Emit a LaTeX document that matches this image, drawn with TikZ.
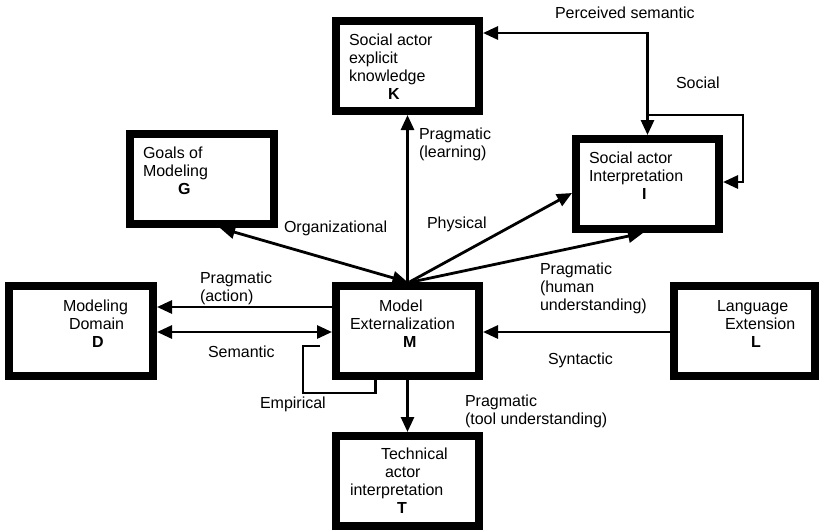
\documentclass[tikz,border=0pt]{standalone}
\usepackage{fontspec}
\setmainfont{Liberation Sans}
\usetikzlibrary{arrows.meta}

% multi-line text whose reference point is the first baseline
\newcommand{\stackL}[1]{\begin{tabular}[t]{@{}l@{}}#1\end{tabular}}

\begin{document}
\begin{tikzpicture}[x=1pt,y=-1pt,
  box/.style={draw, line width=8pt, outer sep=4pt, inner sep=0pt,
              minimum width=#1, minimum height=90pt},
  box/.default=143pt,
  txt/.style={anchor=base west, inner sep=0pt, outer sep=0pt,
              font=\fontsize{16}{18}\selectfont},
  conn/.style={line width=2.8pt},
  tip/.style={-{Triangle[length=15pt,width=13pt]}},
  tips/.style={{Triangle[length=15pt,width=13pt]}-{Triangle[length=15pt,width=13pt]}}
]
\useasboundingbox (0,0) rectangle (819,531);

% ---- boxes ----
\node[box] (K) at (407.5,66) {};
\node[box] (I) at (647.5,184) {};
\node[box=144pt] (G) at (202,179) {};
\node[box=144pt] (D) at (81,331) {};
\node[box] (M) at (407.5,331) {};
\node[box=141pt] (L) at (744.5,331) {};
\node[box] (T) at (407.5,481) {};

% ---- box texts ----
\node[txt] (Kt) at (349,45) {\stackL{Social actor\\explicit\\knowledge\\\hspace*{39pt}\textbf{K}}};
\node[txt] (It) at (589,163) {\stackL{Social actor\\Interpretation\\\hspace*{53pt}\textbf{I}}};
\node[txt] (Gt) at (143,158.5) {\stackL{Goals of\\Modeling\\\hspace*{35pt}\textbf{G}}};
\node[txt] (Dt) at (63,311.5) {\stackL{Modeling\\\hspace*{6pt}Domain\\\hspace*{29pt}\textbf{D}}};
\node[txt] (Mt) at (350,311.5) {\stackL{\hspace*{29pt}Model\\Externalization\\\hspace*{53pt}\textbf{M}}};
\node[txt] (Lt) at (717,311.5) {\stackL{Language\\\hspace*{8pt}Extension\\\hspace*{34pt}\textbf{L}}};
\node[txt] (Tt) at (350,459) {\stackL{\hspace*{31pt}Technical\\\hspace*{35pt}actor\\interpretation\\\hspace*{47pt}\textbf{T}}};

% ---- helper coordinates ----
\coordinate (ps) at (647.5,33);
\coordinate (sj) at (647.5,115);
\coordinate (sr) at (743,115);
\coordinate (sy2) at (0,182);
\coordinate (py) at (0,193);
\coordinate (hx) at (643,0);
\coordinate (gx) at (220,0);
\coordinate (ay) at (0,307);
\coordinate (sy) at (0,332);
\coordinate (ex) at (375.5,0);
\coordinate (e1) at (303,393);
\coordinate (ee) at (320,346);

% ---- connectors ----
\draw[conn,tips] (K.east |- ps) -| (I.north);
\draw[conn,tip] (sj) -- (sr) |- (I.east |- sy2);
\draw[conn,tip] (M.north) -- (K.south);
\draw[conn,tips] (G.south -| gx) -- (M.north);
\draw[conn,tip] ([xshift=2pt]M.north) -- (I.west |- py);
\draw[conn,tip] ([xshift=4pt]M.north) -- (I.south -| hx);
\draw[conn,tip] (M.west |- ay) -- (D.east |- ay);
\draw[conn,tips] (D.east |- sy) -- (M.west |- sy);
\draw[conn,tip] (L.west |- sy) -- (M.east |- sy);
\draw[conn,tip] (M.south) -- (T.north);
\draw[conn] (M.south -| ex) |- (e1) |- (ee);

% ---- connector labels ----
\node[txt] (lps) at (555,18) {Perceived semantic};
\node[txt] (lso) at (676,88.5) {Social};
\node[txt] (lpl) at (419,139) {\stackL{Pragmatic\\(learning)}};
\node[txt] (lor) at (284,232) {Organizational};
\node[txt] (lph) at (427,228.5) {Physical};
\node[txt] (lhu) at (540,274.5) {\stackL{Pragmatic\\(human\\understanding)}};
\node[txt] (lac) at (200,283) {\stackL{Pragmatic\\(action)}};
\node[txt] (lse) at (208,357.5) {Semantic};
\node[txt] (lsy) at (548,364.5) {Syntactic};
\node[txt] (lem) at (260,408) {Empirical};
\node[txt] (ltu) at (465,406.5) {\stackL{Pragmatic\\(tool understanding)}};
\end{tikzpicture}
\end{document}
